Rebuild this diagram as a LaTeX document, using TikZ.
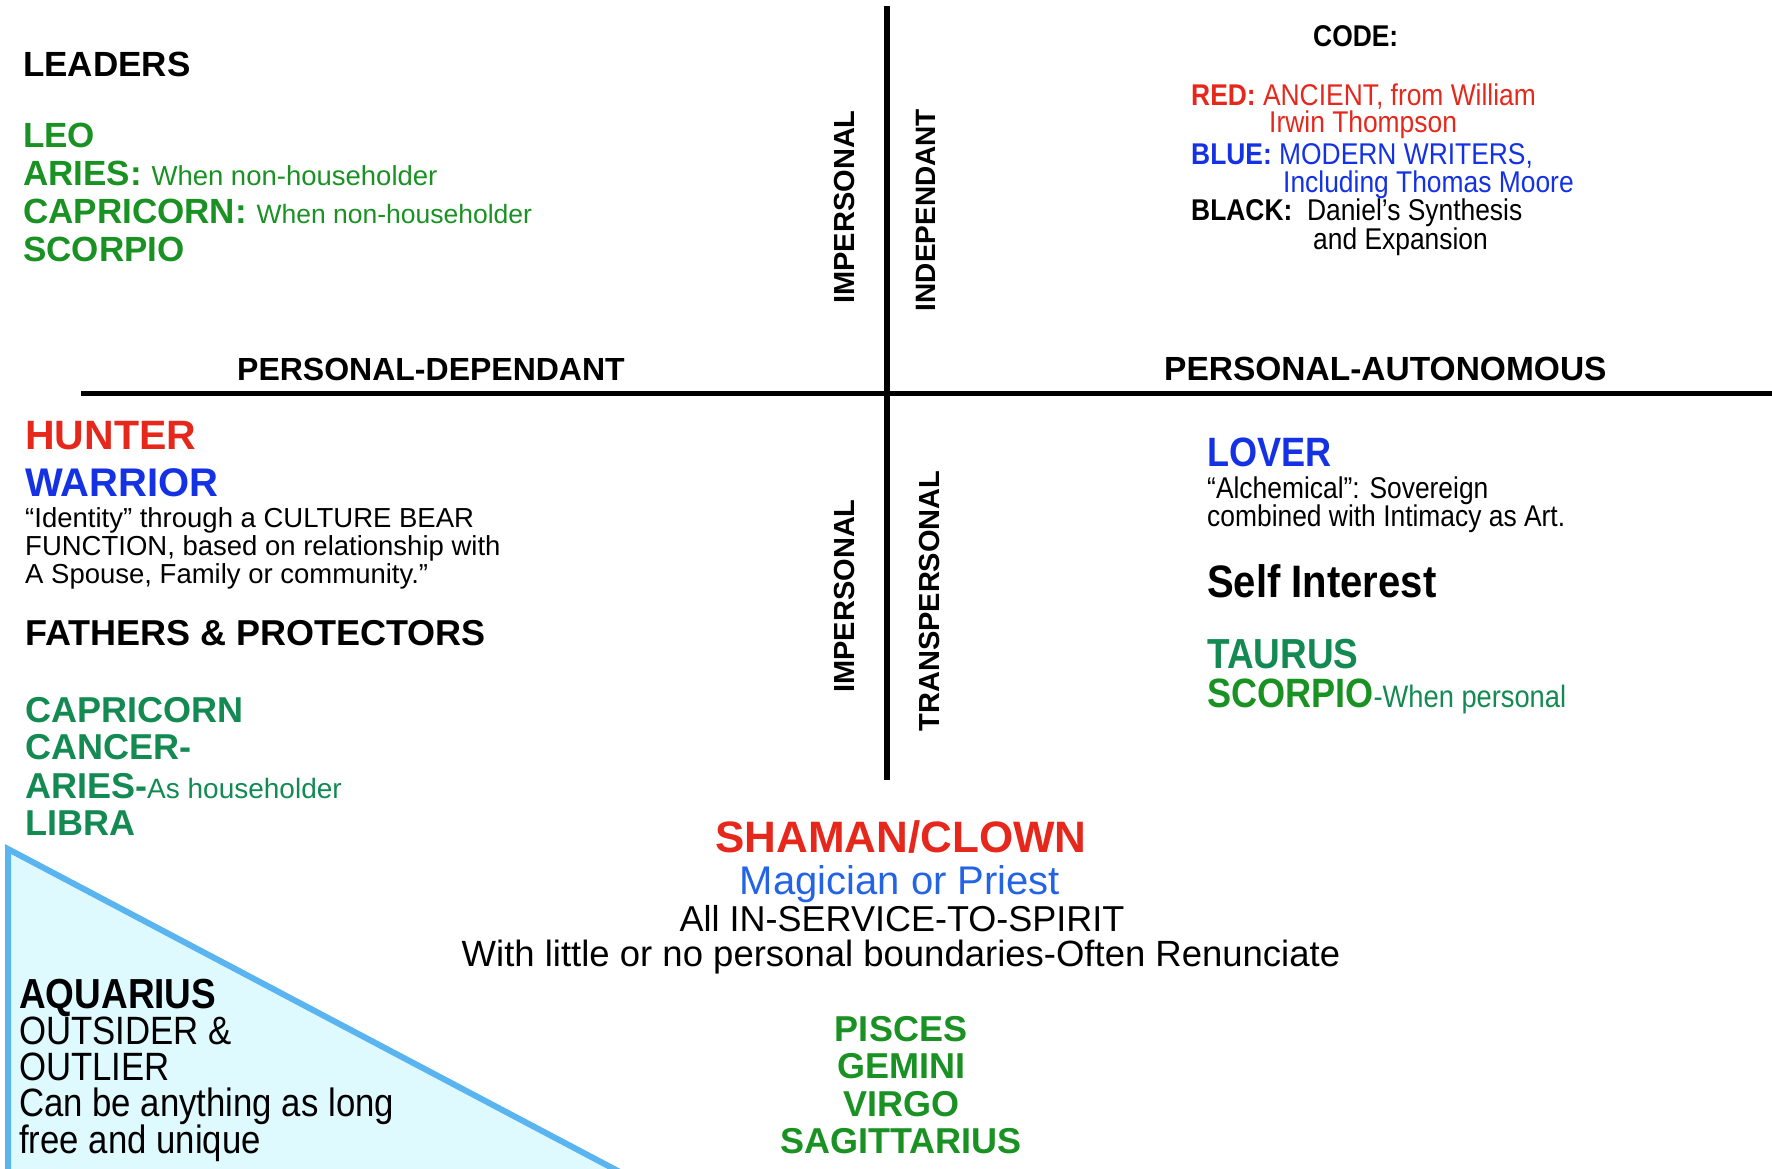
\documentclass[tikz,border=0pt]{standalone}
\usepackage{fontspec}
\setmainfont{Liberation Sans}
\newfontfamily\narrowfont[FakeStretch=0.88]{Liberation Sans}
\newcommand\fsz[1]{\fontsize{#1}{#1}\selectfont}

\definecolor{signgreen}{RGB}{25,145,35}
\definecolor{tealgreen}{RGB}{18,138,82}
\definecolor{oldred}{RGB}{230,40,28}
\definecolor{modblue}{RGB}{20,50,228}
\definecolor{magblue}{RGB}{35,100,228}
\definecolor{trifill}{RGB}{222,250,255}
\definecolor{triline}{RGB}{90,180,240}

\begin{document}
\begin{tikzpicture}[x=1pt,y=-1pt,
	txt/.style={inner sep=0pt, anchor=base west},
	mid/.style={inner sep=0pt, anchor=base},
	sign/.style={txt, signgreen, font=\bfseries\fsz{35}},
	house/.style={txt, tealgreen, font=\bfseries\fsz{36}},
	code/.style={txt, font=\narrowfont\fsz{30}},
	axislbl/.style={inner sep=0pt, rotate=90, font=\bfseries\fsz{29}}]

	\useasboundingbox (0,0) rectangle (1772,1169);

	% outsider corner
	\draw[triline, fill=trifill, line width=6pt] (8,849) -- (8,1180) -- (635,1180) -- cycle;

	% axes
	\draw[line width=6pt] (887,6) -- (887,780);
	\draw[line width=5pt] (81,393) -- (1772,393);

	\node[axislbl] at (845,207) (Imp1) {IMPERSONAL};
	\node[axislbl, font=\bfseries\fsz{28}] at (926,210) (Indep) {INDEPENDANT};
	\node[axislbl] at (845,596) (Imp2) {IMPERSONAL};
	\node[axislbl] at (930,601) (Trans) {TRANSPERSONAL};

	\node[txt, font=\bfseries\fsz{32}] at (237,380) (PD) {PERSONAL-DEPENDANT};
	\node[txt, font=\bfseries\fsz{33.5}] at (1164,380) (PA) {PERSONAL-AUTONOMOUS};

	% leaders
	\node[txt, font=\bfseries\fsz{35}] at (23,77) (Leaders) {LEADERS};
	\node[sign] at (23,148) (Leo) {LEO};
	\node[sign] at (23,186) (Aries1) {ARIES: {\mdseries\fsz{27.5}When non-householder}};
	\node[sign] at (23,224) (Capri1) {CAPRICORN: {\mdseries\fsz{26.5}When non-householder}};
	\node[sign] at (23,261) (Scorp1) {SCORPIO};

	% code
	\node[txt, font=\narrowfont\bfseries\fsz{30}] at (1313,47) (Code) {CODE:};
	\node[code, oldred] at (1191,106) (Red1) {\bfseries RED: \mdseries ANCIENT, from William};
	\node[code, oldred] at (1269,133) (Red2) {Irwin Thompson};
	\node[code, modblue] at (1191,165) (Blue1) {\bfseries BLUE: \mdseries MODERN WRITERS,};
	\node[code, modblue] at (1283,193) (Blue2) {Including Thomas Moore};
	\node[code] at (1191,221) (Black1) {\bfseries BLACK:\ \ \mdseries Daniel’s Synthesis};
	\node[code] at (1313,250) (Black2) {and Expansion};

	% fathers
	\node[txt, oldred, font=\bfseries\fsz{41}] at (25,449) (Hunter) {HUNTER};
	\node[txt, modblue, font=\bfseries\fsz{40}] at (25,496) (Warrior) {WARRIOR};
	\node[txt, font=\fsz{27.5}] at (25,527) (Id1) {“Identity” through a CULTURE BEAR};
	\node[txt, font=\fsz{27.5}] at (25,555) (Id2) {FUNCTION, based on relationship with};
	\node[txt, font=\fsz{27.5}] at (25,583) (Id3) {A Spouse, Family or community.”};
	\node[txt, font=\bfseries\fsz{36}] at (25,645) (Fathers) {FATHERS \& PROTECTORS};
	\node[house] at (25,722) (Capri2) {CAPRICORN};
	\node[house] at (25,759) (Cancer) {CANCER-};
	\node[house] at (25,798) (Aries2) {ARIES-{\mdseries\fsz{28}As householder}};
	\node[house] at (25,835) (Libra) {LIBRA};

	% lover
	\node[txt, modblue, font=\narrowfont\bfseries\fsz{41}] at (1207,466) (Lover) {LOVER};
	\node[txt, font=\narrowfont\fsz{30}] at (1207,498) (Alch1) {“Alchemical”: Sovereign};
	\node[txt, font=\narrowfont\fsz{30}] at (1207,526) (Alch2) {combined with Intimacy as Art.};
	\node[txt, font=\narrowfont\bfseries\fsz{45.5}] at (1207,597) (Self) {Self Interest};
	\node[txt, tealgreen, font=\narrowfont\bfseries\fsz{42}] at (1207,668) (Taurus) {TAURUS};
	\node[txt, signgreen, font=\narrowfont\bfseries\fsz{41}] at (1207,707) (Scorp2) {SCORPIO{\mdseries\fsz{31}\color{tealgreen}-When personal}};

	% shaman
	\node[mid, oldred, font=\bfseries\fsz{44}] at (901,852) (Shaman) {SHAMAN/CLOWN};
	\node[mid, magblue, font=\fsz{40}] at (900,894) (Magi) {Magician or Priest};
	\node[mid, font=\fsz{36}] at (902,931) (Serv) {All IN-SERVICE-TO-SPIRIT};
	\node[mid, font=\fsz{36.5}] at (901,966) (Bound) {With little or no personal boundaries-Often Renunciate};
	\foreach \t [count=\i] in {PISCES,GEMINI,VIRGO,SAGITTARIUS}
		\node[mid, signgreen, font=\bfseries\fsz{36}] at (901,1003.5+37.6*\i) (Spirit\i) {\t};

	% aquarius
	\node[txt, font=\narrowfont\bfseries\fsz{42}] at (19,1008) (Aqua) {AQUARIUS};
	\node[txt, font=\narrowfont\fsz{39.5}] at (19,1044) (Out1) {OUTSIDER \&};
	\node[txt, font=\narrowfont\fsz{39.5}] at (19,1080) (Out2) {OUTLIER};
	\node[txt, font=\narrowfont\fsz{39.5}] at (19,1116) (Out3) {Can be anything as long};
	\node[txt, font=\narrowfont\fsz{39.5}] at (19,1153) (Out4) {free and unique};

\end{tikzpicture}
\end{document}
